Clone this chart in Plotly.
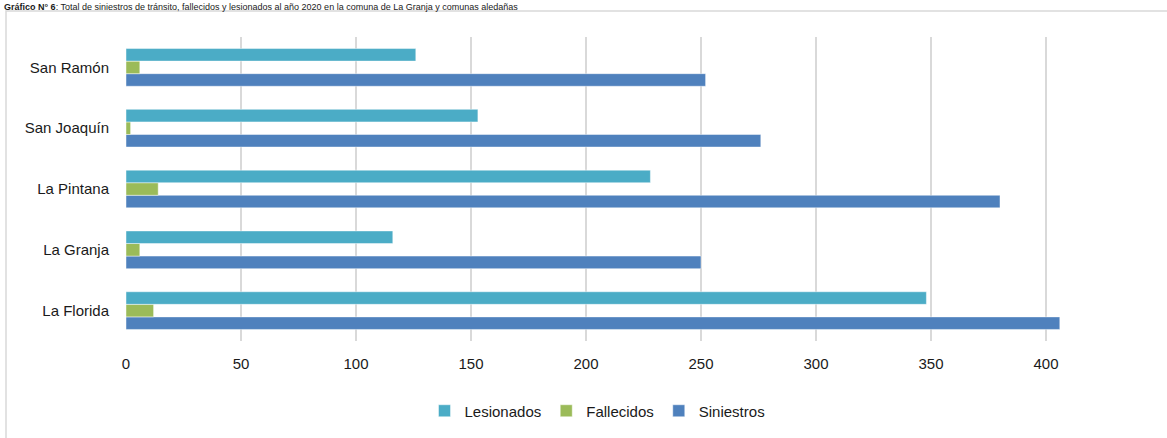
import plotly.graph_objects as go

comunas = ["La Florida", "La Granja", "La Pintana", "San Joaquín", "San Ramón"]
siniestros = [406, 250, 380, 276, 252]
fallecidos = [12, 6, 14, 2, 6]
lesionados = [348, 116, 228, 153, 126]
x_ticks = [0, 50, 100, 150, 200, 250, 300, 350, 400]

title_text = ("<b>Gráfico N° 6</b>: Total de siniestros de tránsito, fallecidos y lesionados "
              "al año 2020 en la comuna de La Granja y comunas aledañas")

FONT = "Liberation Sans, Arial, sans-serif"

L, T, PW, PH = 126, 37, 943, 305

fig = go.Figure()
for name, vals, col in [("Siniestros", siniestros, "#4F81BD"),
                        ("Fallecidos", fallecidos, "#9BBB59"),
                        ("Lesionados", lesionados, "#4BACC6")]:
    fig.add_trace(go.Bar(
        y=comunas, x=vals, name=name, orientation="h",
        marker=dict(color=col, line=dict(color="rgba(255,255,255,0.45)", width=1)),
    ))

fig.update_layout(
    width=1167, height=438,
    margin=dict(l=L, r=1167 - L - PW, t=T, b=438 - T - PH),
    paper_bgcolor="white", plot_bgcolor="white",
    barmode="group", bargap=0.38, bargroupgap=0,
    font=dict(family=FONT, size=15, color="#1a1a1a"),
    showlegend=True,
    legend=dict(orientation="h", x=0.5, xanchor="center", y=-69 / PH, yanchor="middle",
                traceorder="reversed", font=dict(size=15), itemwidth=30,
                bgcolor="rgba(0,0,0,0)"),
    xaxis=dict(range=[0, 410], tickvals=x_ticks, showgrid=True, gridcolor="#D9D9D9",
               gridwidth=2, zeroline=False, showline=False,
               ticks="outside", ticklen=9, tickcolor="rgba(0,0,0,0)",
               tickfont=dict(size=15)),
    yaxis=dict(range=[-0.5, 4.5], showgrid=False, zeroline=False, showline=False,
               ticks="outside", ticklen=13, tickcolor="rgba(0,0,0,0)",
               tickfont=dict(size=15)),
)

# outer chart frame
fig.add_shape(type="rect", xref="paper", yref="paper",
              x0=-120 / PW, x1=1.2, y0=-0.5, y1=1 + 26 / PH,
              line=dict(color="#D9D9D9", width=1.5), fillcolor="rgba(0,0,0,0)", layer="below")

fig.add_annotation(text=title_text, xref="paper", yref="paper",
                   x=-124 / PW, xanchor="left", y=1 + 37 / PH, yanchor="top",
                   showarrow=False, font=dict(family=FONT, size=9, color="#1a1a1a"))

fig.write_html("out.html", config={"displayModeBar": False},
               post_script="document.body.style.margin='0px';")
